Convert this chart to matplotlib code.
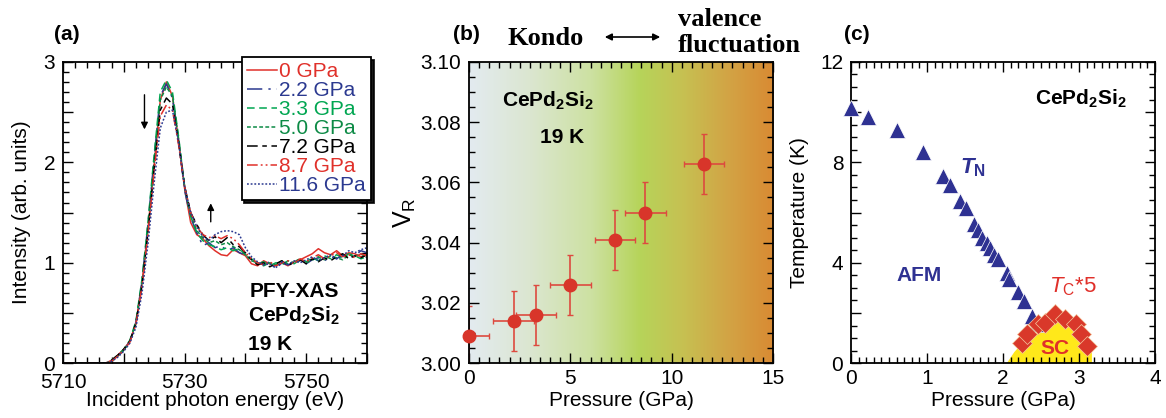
import numpy as np
import matplotlib
matplotlib.use("Agg")
import matplotlib.pyplot as plt
from matplotlib.ticker import MultipleLocator, FuncFormatter
from matplotlib.colors import LinearSegmentedColormap

plt.rcParams['font.family'] = ['Liberation Sans', 'DejaVu Sans']
plt.rcParams['mathtext.fontset'] = 'custom'
plt.rcParams['mathtext.rm'] = 'Liberation Sans'
plt.rcParams['mathtext.it'] = 'Liberation Sans:italic'
plt.rcParams['mathtext.bf'] = 'Liberation Sans:bold'
plt.rcParams['mathtext.bfit'] = 'Liberation Sans:italic:bold'

# ---- (a) PFY-XAS spectra, 1 eV grid 5710..5760 ----
energy = np.arange(5710, 5761)
zeros8 = [0.0] * 8
spec_0 = zeros8 + [0.03, 0.08, 0.14, 0.22, 0.40, 0.80, 1.35, 1.98, 2.62, 2.80,
                   2.66, 2.22, 1.74, 1.40, 1.28, 1.24, 1.17, 1.12, 1.08, 1.07,
                   1.13, 1.10, 1.07, 0.99, 0.97, 1.02, 0.99, 0.97, 1.00, 0.97,
                   1.01, 1.03, 1.06, 1.09, 1.14, 1.10, 1.08, 1.12, 1.07, 1.10,
                   1.09, 1.06, 1.08]
spec_22 = zeros8 + [0.02, 0.07, 0.13, 0.22, 0.41, 0.82, 1.40, 2.05, 2.66, 2.78,
                    2.64, 2.22, 1.72, 1.45, 1.30, 1.17, 1.20, 1.15, 1.17, 1.12,
                    1.15, 1.10, 1.08, 1.03, 1.00, 0.98, 1.01, 0.94, 1.00, 0.98,
                    1.00, 1.02, 0.99, 1.03, 1.05, 1.02, 1.06, 1.04, 1.08, 1.05,
                    1.07, 1.12, 1.10]
spec_33 = zeros8 + [0.03, 0.08, 0.14, 0.23, 0.42, 0.84, 1.42, 2.08, 2.70, 2.82,
                    2.70, 2.26, 1.76, 1.46, 1.30, 1.22, 1.18, 1.16, 1.13, 1.15,
                    1.12, 1.14, 1.08, 1.04, 0.99, 1.01, 0.97, 1.00, 0.98, 1.02,
                    0.99, 1.03, 1.01, 1.05, 1.02, 1.07, 1.04, 1.08, 1.05, 1.09,
                    1.07, 1.04, 1.06]
spec_50 = zeros8 + [0.02, 0.07, 0.13, 0.22, 0.40, 0.80, 1.36, 2.02, 2.62, 2.75,
                    2.66, 2.24, 1.76, 1.48, 1.32, 1.25, 1.20, 1.22, 1.18, 1.20,
                    1.16, 1.13, 1.08, 1.02, 1.00, 0.97, 1.00, 0.98, 1.02, 0.99,
                    1.01, 1.04, 1.00, 1.03, 1.06, 1.03, 1.07, 1.05, 1.03, 1.08,
                    1.06, 1.09, 1.05]
spec_72 = zeros8 + [0.03, 0.08, 0.14, 0.22, 0.40, 0.78, 1.32, 1.95, 2.52, 2.64,
                    2.58, 2.20, 1.76, 1.50, 1.38, 1.28, 1.22, 1.26, 1.20, 1.25,
                    1.18, 1.16, 1.10, 1.03, 0.98, 1.00, 0.96, 0.99, 1.02, 0.97,
                    1.01, 1.03, 0.99, 1.04, 1.01, 1.05, 1.02, 1.06, 1.09, 1.04,
                    1.07, 1.05, 1.08]
spec_87 = zeros8 + [0.02, 0.07, 0.13, 0.21, 0.39, 0.77, 1.30, 1.92, 2.46, 2.57,
                    2.52, 2.18, 1.76, 1.50, 1.36, 1.28, 1.25, 1.27, 1.24, 1.27,
                    1.24, 1.18, 1.10, 1.04, 1.00, 0.98, 1.01, 0.97, 1.00, 1.02,
                    0.99, 1.04, 1.01, 1.05, 1.08, 1.04, 1.07, 1.10, 1.06, 1.08,
                    1.05, 1.09, 1.07]
spec_116 = zeros8 + [0.02, 0.06, 0.12, 0.20, 0.36, 0.70, 1.20, 1.80, 2.34, 2.50,
                     2.52, 2.20, 1.76, 1.50, 1.36, 1.26, 1.22, 1.28, 1.31, 1.32,
                     1.31, 1.28, 1.15, 1.06, 1.01, 0.98, 0.99, 0.95, 1.01, 0.98,
                     1.02, 1.00, 1.03, 1.06, 1.02, 1.05, 1.08, 1.04, 1.07, 1.12,
                     1.10, 1.13, 1.15]
spec_labels = ['0 GPa', '2.2 GPa', '3.3 GPa', '5.0 GPa', '7.2 GPa', '8.7 GPa', '11.6 GPa']

# ---- (b) valence vs pressure ----
p_vr = [0.0, 2.2, 3.3, 5.0, 7.2, 8.7, 11.6]
vr = [3.009, 3.014, 3.016, 3.026, 3.041, 3.050, 3.066]
p_err = [1.0, 1.0, 1.0, 1.0, 1.0, 1.0, 1.0]
vr_err = [0.010, 0.010, 0.010, 0.010, 0.010, 0.010, 0.010]

# ---- (c) phase diagram ----
p_tn = [0.0, 0.23, 0.61, 0.95, 1.21, 1.30, 1.43, 1.51, 1.62, 1.67, 1.73,
        1.79, 1.83, 1.88, 1.94, 2.05, 2.08, 2.20, 2.27, 2.38, 2.44]
t_n = [10.15, 9.8, 9.28, 8.4, 7.45, 7.08, 6.47, 6.2, 5.55, 5.3, 5.0,
       4.8, 4.6, 4.32, 4.15, 3.6, 3.35, 2.85, 2.48, 1.9, 1.55]
p_tc = [2.25, 2.32, 2.46, 2.55, 2.68, 2.82, 2.96, 3.02, 3.10]
tc5 = [0.82, 1.15, 1.55, 1.62, 1.95, 1.75, 1.55, 1.15, 0.69]
sc_p = [2.05, 2.15, 2.30, 2.45, 2.60, 2.75, 2.90, 3.02, 3.12, 3.17, 3.17]
sc_t = [0.0, 0.45, 0.95, 1.30, 1.55, 1.68, 1.55, 1.25, 0.85, 0.50, 0.0]

RED = '#e0302a'
BLUE = '#2b3990'
GREEN = '#00a651'
DGREEN = '#0c8a45'
NAVY = '#2e3192'
FS = 15


def style_axes(ax):
    for s in ax.spines.values():
        s.set_linewidth(1.3)
    ax.tick_params(which='both', direction='in', top=True, right=True, width=1.0,
                   labelsize=FS, pad=4)
    ax.tick_params(axis='y', pad=5.5)
    ax.tick_params(which='major', length=7)
    ax.tick_params(which='minor', length=4)


fig = plt.figure(figsize=(11.66, 4.18), dpi=100)
ax_a = fig.add_axes([63 / 1166, 0.131, 304 / 1166, 0.721])
ax_b = fig.add_axes([469 / 1166, 0.131, 304 / 1166, 0.721])
ax_c = fig.add_axes([851 / 1166, 0.131, 304 / 1166, 0.721])

# (a)
series = [spec_0, spec_22, spec_33, spec_50, spec_72, spec_87, spec_116]
colors = [RED, BLUE, GREEN, DGREEN, 'black', RED, BLUE]
dashes = ['-', (0, (10, 4, 1.5, 4)), (0, (5, 3)), (0, (2.5, 1.5)),
          (0, (7, 3, 3, 3)), (0, (7, 2, 1.2, 2, 1.2, 2)), (0, (1.2, 1.2))]
for y, c, ls, lab in zip(series, colors, dashes, spec_labels):
    ax_a.plot(energy, y, color=c, linestyle=ls, linewidth=1.1, label=lab)
ax_a.set_xlim(5710, 5760)
ax_a.set_ylim(0, 3)
ax_a.xaxis.set_major_locator(MultipleLocator(10))
ax_a.xaxis.set_minor_locator(MultipleLocator(2))
ax_a.xaxis.set_major_formatter(FuncFormatter(lambda v, p: f'{v:.0f}' if round(v - 5710) % 20 == 0 else ''))
ax_a.yaxis.set_major_locator(MultipleLocator(0.5))
ax_a.yaxis.set_minor_locator(MultipleLocator(0.1))
ax_a.yaxis.set_major_formatter(FuncFormatter(lambda v, p: f'{v:.0f}' if abs(v - round(v)) < 1e-6 else ''))
style_axes(ax_a)
ax_a.tick_params(axis='x', pad=7)
ax_a.set_xlabel('Incident photon energy (eV)', fontsize=FS, labelpad=-1)
ax_a.set_ylabel('Intensity (arb. units)', fontsize=FS, labelpad=9)
leg = ax_a.legend(loc='upper right', bbox_to_anchor=(1.013, 1.017), fontsize=15,
                  frameon=True, fancybox=False, edgecolor='black',
                  shadow={'color': 'black', 'alpha': 0.9}, framealpha=1,
                  borderaxespad=0, handlelength=1.45, handletextpad=0.1,
                  labelspacing=0.0, borderpad=0.25)
leg.get_frame().set_linewidth(1.3)
for t, c in zip(leg.get_texts(), colors):
    t.set_color(c)
ax_a.annotate('', xy=(5723.4, 2.30), xytext=(5723.4, 2.70),
              arrowprops=dict(arrowstyle='-|>', color='black', lw=1, mutation_scale=10))
ax_a.annotate('', xy=(5734.3, 1.62), xytext=(5734.3, 1.38),
              arrowprops=dict(arrowstyle='-|>', color='black', lw=1, mutation_scale=10))
ax_a.text(5740.7, 0.66, 'PFY-XAS', fontsize=15, fontweight='bold')
ax_a.text(5740.4, 0.41, r'$\mathbf{CePd_2Si_2}$', fontsize=15)
ax_a.text(5740.4, 0.13, '19 K', fontsize=15, fontweight='bold')

# (b)
grad = LinearSegmentedColormap.from_list('kv', [
    (0.0, '#e3ebf0'), (0.2, '#dbe6d0'), (0.4, '#cde1a2'), (0.56, '#b6d45a'),
    (0.7, '#c6c152'), (0.85, '#d2a445'), (1.0, '#d98a33')])
ax_b.imshow(np.linspace(0, 1, 256).reshape(1, -1), cmap=grad, aspect='auto',
            extent=[0, 15, 3.0, 3.1], zorder=0)
ax_b.errorbar(p_vr, vr, xerr=p_err, yerr=vr_err, fmt='none', ecolor='#dd4a3f',
              elinewidth=1.2, capsize=2.5, capthick=1.0, zorder=2)
ax_b.plot(p_vr, vr, 'o', color='#d8352a', markersize=9, clip_on=False, zorder=3)
ax_b.set_xlim(0, 15)
ax_b.set_ylim(3.0, 3.1)
ax_b.xaxis.set_major_locator(MultipleLocator(5))
ax_b.xaxis.set_minor_locator(MultipleLocator(0.5))
ax_b.yaxis.set_major_locator(MultipleLocator(0.02))
ax_b.yaxis.set_minor_locator(MultipleLocator(0.005))
ax_b.yaxis.set_major_formatter(FuncFormatter(lambda v, p: f'{v:.2f}'))
style_axes(ax_b)
ax_b.set_xlabel('Pressure (GPa)', fontsize=FS, labelpad=2)
ax_b.set_ylabel(r'V$_\mathrm{R}$', fontsize=18, labelpad=2)
ax_b.text(1.63, 3.0852, r'$\mathbf{CePd_2Si_2}$', fontsize=15)
ax_b.text(3.5, 3.073, '19 K', fontsize=15, fontweight='bold')

# (c)
ax_c.fill(sc_p, sc_t, color='#ffe81a', lw=0, zorder=1)
ax_c.plot(p_tn, t_n, '^', color=NAVY, markersize=11, markeredgecolor='white',
          markeredgewidth=0.5, clip_on=False, zorder=3)
ax_c.plot(p_tc, tc5, 'D', color='#d9382a', markersize=10, markeredgecolor='#f4c9a0',
          markeredgewidth=0.5, zorder=4)
ax_c.set_xlim(0, 4)
ax_c.set_ylim(0, 12)
ax_c.xaxis.set_major_locator(MultipleLocator(1))
ax_c.xaxis.set_minor_locator(MultipleLocator(0.1))
ax_c.yaxis.set_major_locator(MultipleLocator(2))
ax_c.yaxis.set_minor_locator(MultipleLocator(0.5))
ax_c.yaxis.set_major_formatter(FuncFormatter(lambda v, p: f'{v:.0f}' if round(v) % 4 == 0 else ''))
style_axes(ax_c)
ax_c.set_xlabel('Pressure (GPa)', fontsize=FS, labelpad=2)
ax_c.set_ylabel('Temperature (K)', fontsize=FS, labelpad=8)
ax_c.text(2.42, 10.28, r'$\mathbf{CePd_2Si_2}$', fontsize=15)
ax_c.text(1.43, 7.57, r'$\mathbfit{T}_\mathbf{N}$', fontsize=16, color=NAVY)
ax_c.text(0.60, 3.28, 'AFM', fontsize=15, fontweight='bold', color=NAVY)
ax_c.text(2.60, 2.81, r'$\mathit{T}_\mathrm{C}$*5', fontsize=16, color='#e0302a')
ax_c.text(2.49, 0.35, 'SC', fontsize=15, fontweight='bold', color='#e0302a', zorder=5)

# panel labels and header
for x, lab in [(67, '(a)'), (466, '(b)'), (857, '(c)')]:
    fig.text(x / 1166, 1 - 35 / 418, lab, fontsize=15, fontweight='bold',
             ha='center', va='center')
fig.text(508 / 1166, 1 - 45 / 418, 'Kondo', family='Liberation Serif',
         fontsize=19, fontweight='bold')
fig.text(678 / 1166, 1 - 26 / 418, 'valence', family='Liberation Serif',
         fontsize=19, fontweight='bold')
fig.text(678 / 1166, 1 - 52 / 418, 'fluctuation', family='Liberation Serif',
         fontsize=19, fontweight='bold')
fig.add_artist(matplotlib.patches.FancyArrowPatch(
    (602 / 1166, 1 - 37 / 418), (663 / 1166, 1 - 37 / 418),
    transform=fig.transFigure, arrowstyle='<|-|>', mutation_scale=10,
    color='black', lw=1.2))

fig.savefig('out.png', dpi=100)
